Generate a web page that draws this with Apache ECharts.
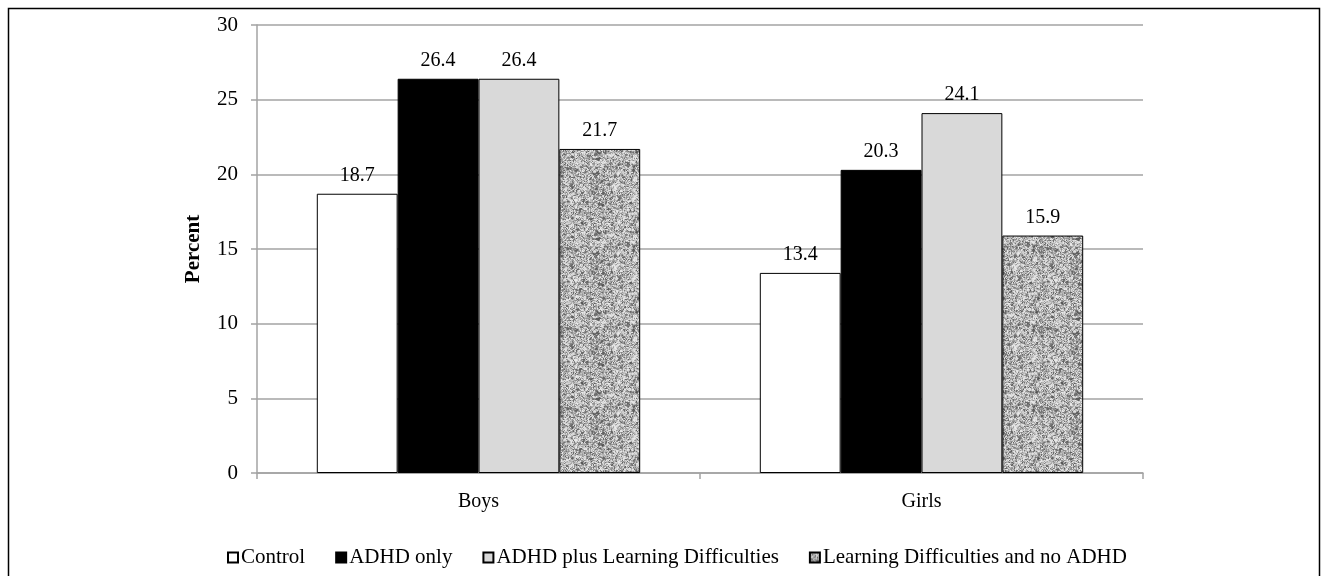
<!DOCTYPE html>
<html>
<head>
<meta charset="utf-8">
<script src="https://cdn.jsdelivr.net/npm/echarts@6/dist/echarts.min.js"></script>
<style>
html,body{margin:0;padding:0;background:#fff;}
#chart{width:1321px;height:576px;}
</style>
</head>
<body>
<div id="chart"></div>
<script>
const categories = ['Boys', 'Girls'];
const seriesNames = ['Control', 'ADHD only', 'ADHD plus Learning Difficulties', 'Learning Difficulties and no ADHD'];
const controlValues = [18.7, 13.4];
const adhdOnlyValues = [26.4, 20.3];
const adhdPlusLdValues = [26.4, 24.1];
const ldNoAdhdValues = [21.7, 15.9];
const yTicks = [0, 5, 10, 15, 20, 25, 30];

// speckled texture for the last series (deterministic pseudo-noise, style only)
function makeTexture() {
  const size = 80;
  const c = document.createElement('canvas');
  c.width = size; c.height = size;
  const ctx = c.getContext('2d');
  let s = 987654;
  function rnd() { s = (s * 1103515245 + 12345) & 0x7fffffff; return s / 0x7fffffff; }
  ctx.fillStyle = '#b8b8b8';
  ctx.fillRect(0, 0, size, size);
  for (let y = 0; y < size; y++) {
    for (let x = 0; x < size; x++) {
      const r = rnd();
      let v;
      if (r < 0.12) v = 95 + Math.floor(rnd() * 35);
      else if (r < 0.4) v = 140 + Math.floor(rnd() * 25);
      else if (r < 0.75) v = 175 + Math.floor(rnd() * 25);
      else v = 205 + Math.floor(rnd() * 30);
      ctx.fillStyle = 'rgb(' + v + ',' + v + ',' + v + ')';
      ctx.fillRect(x, y, 1, 1);
    }
  }
  for (let i = 0; i < 160; i++) {
    const x = rnd() * size, y = rnd() * size;
    const v = 70 + Math.floor(rnd() * 50);
    ctx.fillStyle = 'rgba(' + v + ',' + v + ',' + v + ',0.8)';
    ctx.beginPath();
    ctx.arc(x, y, 0.8 + rnd() * 0.9, 0, Math.PI * 2);
    ctx.fill();
  }
  for (let i = 0; i < 160; i++) {
    const x = rnd() * size, y = rnd() * size;
    ctx.fillStyle = 'rgba(235,235,235,0.75)';
    ctx.beginPath();
    ctx.arc(x, y, 0.8 + rnd() * 0.9, 0, Math.PI * 2);
    ctx.fill();
  }
  return c;
}
const texture = makeTexture();

const fontFamily = '"Liberation Serif", "Times New Roman", serif';
const fills = ['#ffffff', '#000000', '#d9d9d9', { image: texture, repeat: 'repeat' }];
const dataSets = [controlValues, adhdOnlyValues, adhdPlusLdValues, ldNoAdhdValues];

const chart = echarts.init(document.getElementById('chart'), null, { renderer: 'canvas' });
chart.setOption({
  backgroundColor: '#fff',
  animation: false,
  textStyle: { fontFamily: fontFamily, color: '#000' },
  graphic: [{
    type: 'rect',
    shape: { x: 8.5, y: 8.5, width: 1311, height: 620 },
    style: { fill: 'none', stroke: '#000', lineWidth: 1.5 },
    silent: true
  }],
  grid: { left: 257, right: 178, top: 25, bottom: 103, containLabel: false },
  legend: {
    bottom: 3,
    left: 222,
    itemWidth: 10,
    itemHeight: 10,
    itemGap: 30,
    icon: 'rect',
    textStyle: { fontFamily: fontFamily, fontSize: 21, color: '#000', padding: [0, 0, 0, -2] },
    data: seriesNames
  },
  xAxis: {
    type: 'category',
    data: categories,
    axisLine: { lineStyle: { color: '#a3a3a3', width: 1.5 } },
    axisTick: { show: true, length: 6, lineStyle: { color: '#a3a3a3', width: 1.5 } },
    axisLabel: { fontFamily: fontFamily, fontSize: 20, color: '#000', margin: 19 }
  },
  yAxis: {
    type: 'value',
    min: 0, max: 30, interval: 5,
    name: 'Percent',
    nameLocation: 'middle',
    nameRotate: 90,
    nameGap: 53,
    nameTextStyle: { fontFamily: fontFamily, fontSize: 21, fontWeight: 'bold', color: '#000' },
    axisLine: { show: true, lineStyle: { color: '#a3a3a3', width: 1.5 } },
    axisTick: { show: true, length: 6, lineStyle: { color: '#a3a3a3', width: 1.5 } },
    axisLabel: { fontFamily: fontFamily, fontSize: 21, color: '#000', margin: 19,
      formatter: function (v) { return yTicks.indexOf(v) >= 0 ? String(v) : ''; } },
    splitLine: { lineStyle: { color: '#a3a3a3', width: 1.5 } }
  },
  series: seriesNames.map(function (name, i) {
    return {
      name: name,
      type: 'bar',
      data: dataSets[i],
      barGap: '0%',
      barCategoryGap: '27%',
      itemStyle: { color: fills[i], borderColor: '#000', borderWidth: 1 },
      label: {
        show: true, position: 'top', distance: 8,
        fontFamily: fontFamily, fontSize: 20, color: '#000',
        formatter: function (p) { return p.value.toFixed(1); }
      }
    };
  })
});
</script>
</body>
</html>
